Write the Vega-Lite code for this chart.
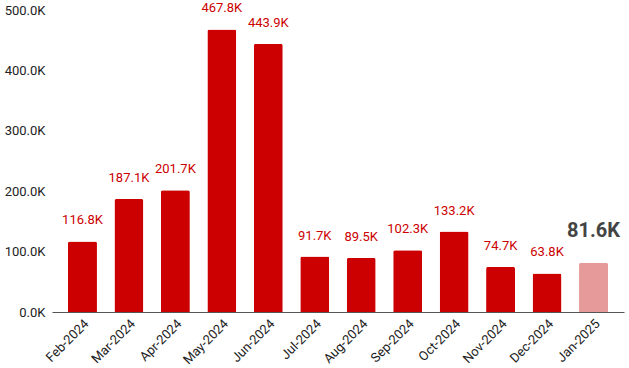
{
  "$schema": "https://vega.github.io/schema/vega-lite/v6.json",
  "width": 572,
  "height": 302,
  "autosize": {"type": "none"},
  "padding": {"left": 52, "top": 10, "right": 5, "bottom": 56},
  "background": "white",
  "config": {"view": {"stroke": null}, "font": "Roboto"},
  "data": {"values": [
    {"month": "Feb-2024", "value": 116800, "last": false},
    {"month": "Mar-2024", "value": 187100, "last": false},
    {"month": "Apr-2024", "value": 201700, "last": false},
    {"month": "May-2024", "value": 467800, "last": false},
    {"month": "Jun-2024", "value": 443900, "last": false},
    {"month": "Jul-2024", "value": 91700, "last": false},
    {"month": "Aug-2024", "value": 89500, "last": false},
    {"month": "Sep-2024", "value": 102300, "last": false},
    {"month": "Oct-2024", "value": 133200, "last": false},
    {"month": "Nov-2024", "value": 74700, "last": false},
    {"month": "Dec-2024", "value": 63800, "last": false},
    {"month": "Jan-2025", "value": 81600, "last": true}
  ]},
  "transform": [{"calculate": "format(datum.value/1000, '.1f') + 'K'", "as": "label"}],
  "encoding": {
    "x": {
      "field": "month", "type": "nominal", "sort": null,
      "scale": {"paddingInner": 0.376, "paddingOuter": 0.344},
      "axis": {"title": null, "labelAngle": -45, "labelFontSize": 13, "labelColor": "#222", "ticks": false, "domainColor": "#555", "labelPadding": 5}
    },
    "y": {
      "field": "value", "type": "quantitative",
      "scale": {"domain": [0, 500000], "nice": false},
      "axis": {"title": null, "values": [0, 100000, 200000, 300000, 400000, 500000], "labelExpr": "format(datum.value/1000, '.1f') + 'K'", "grid": false, "domain": false, "ticks": false, "labelFontSize": 13, "labelColor": "#222", "labelPadding": 7}
    }
  },
  "layer": [
    {
      "mark": {"type": "bar", "cornerRadiusTopLeft": 2, "cornerRadiusTopRight": 2},
      "encoding": {
        "color": {"condition": {"test": "datum.last", "value": "#e69a9a"}, "value": "#cc0000"}
      }
    },
    {
      "transform": [{"filter": "!datum.last"}],
      "mark": {"type": "text", "dy": -21, "fontSize": 13, "color": "#cc0000"},
      "encoding": {"text": {"field": "label", "type": "nominal"}}
    },
    {
      "transform": [{"filter": "datum.last"}],
      "mark": {"type": "text", "dy": -32, "fontSize": 20, "fontWeight": "bold", "color": "#444"},
      "encoding": {"text": {"field": "label", "type": "nominal"}}
    }
  ]
}
